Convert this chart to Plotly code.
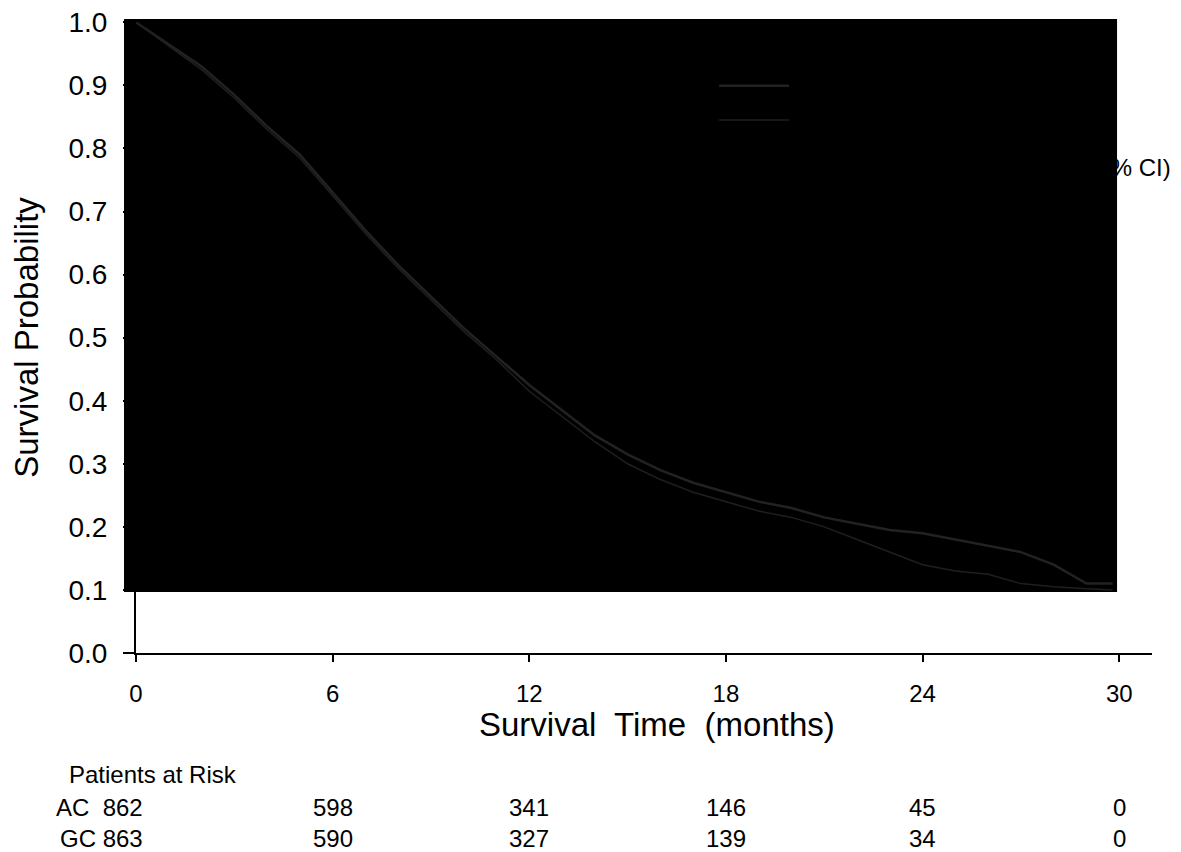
import plotly.graph_objects as go

# Kaplan-Meier estimates (months, survival probability)
months = [0, 1, 2, 3, 4, 5, 6, 7, 8, 9, 10, 11, 12, 13, 14, 15, 16, 17, 18,
          19, 20, 21, 22, 23, 24, 25, 26, 27, 28, 29, 29.8]
surv_ac = [1.0, 0.965, 0.93, 0.885, 0.835, 0.79, 0.73, 0.67, 0.615, 0.565, 0.515,
           0.47, 0.425, 0.385, 0.345, 0.315, 0.29, 0.27, 0.255, 0.24, 0.23, 0.215,
           0.205, 0.195, 0.19, 0.18, 0.17, 0.16, 0.14, 0.11, 0.11]
surv_gc = [1.0, 0.962, 0.925, 0.88, 0.83, 0.785, 0.725, 0.665, 0.61, 0.56, 0.51,
           0.465, 0.415, 0.375, 0.335, 0.3, 0.275, 0.255, 0.24, 0.225, 0.215, 0.2,
           0.18, 0.16, 0.14, 0.13, 0.125, 0.11, 0.105, 0.102, 0.1]

# patients at risk table
risk_times = [0, 6, 12, 18, 24, 30]
risk_ac = [862, 598, 341, 146, 45, 0]
risk_gc = [863, 590, 327, 139, 34, 0]

font_main = "Liberation Sans, Arial, sans-serif"

trace_ac = go.Scatter(x=months, y=surv_ac, mode='lines', name='AC',
                      line=dict(color='#222222', width=2.5))
trace_gc = go.Scatter(x=months, y=surv_gc, mode='lines', name='GC',
                      line=dict(color='#1f1f1f', width=1.5))

annotations = [
    dict(text='Survival&nbsp; Time&nbsp; (months)', x=0.513, y=-0.114,
         xref='paper', yref='paper', xanchor='center', yanchor='middle',
         showarrow=False, font=dict(family=font_main, size=33, color='black')),
    dict(text='Patients at Risk', x=-0.068, y=-0.193, xref='paper', yref='paper',
         xanchor='left', yanchor='middle', showarrow=False,
         font=dict(family=font_main, size=24, color='black')),
    dict(text='(95% CI)', x=1.021, y=0.769, xref='paper', yref='paper',
         xanchor='right', yanchor='middle', showarrow=False,
         font=dict(family=font_main, size=24, color='black')),
]
for row, (label, counts) in enumerate([('AC  ', risk_ac), ('GC ', risk_gc)]):
    ypos = -0.245 - row * 0.049
    for t, n in zip(risk_times, counts):
        if t == 0:
            annotations.append(dict(text=label + str(n), x=0.009, y=ypos, xref='paper',
                                    yref='paper', xanchor='right', yanchor='middle',
                                    showarrow=False,
                                    font=dict(family=font_main, size=24, color='black')))
        else:
            annotations.append(dict(text=str(n), x=t, y=ypos, xref='x', yref='paper',
                                    xanchor='center', yanchor='middle', showarrow=False,
                                    font=dict(family=font_main, size=24, color='black')))

# page body has an 8px margin, so the figure is 16px smaller than the window
layout = go.Layout(
    width=1173, height=844,
    margin=dict(l=128, r=29, t=14, b=199, autoexpand=False),
    paper_bgcolor='white', plot_bgcolor='white',
    font=dict(family=font_main, size=24, color='black'),
    showlegend=True,
    legend=dict(x=0.569, y=0.934, xanchor='left', yanchor='top',
                bgcolor='rgba(0,0,0,0)', itemwidth=70,
                font=dict(family=font_main, size=24, color='black')),
    xaxis=dict(range=[0, 31], tickvals=risk_times, showgrid=False, zeroline=False,
               showline=True, linecolor='black', linewidth=2, automargin=False,
               ticks='outside', ticklen=7, tickwidth=2, tickcolor='black',
               ticklabelstandoff=11,
               tickfont=dict(family=font_main, size=24, color='black')),
    yaxis=dict(range=[0, 1.0005], tickvals=[i / 10 for i in range(11)], tickformat='.1f',
               showgrid=False, zeroline=False, showline=True, linecolor='black',
               linewidth=2, automargin=False, ticks='outside', ticklen=11,
               tickwidth=2, tickcolor='black',
               ticklabelstandoff=10, ticklabeloverflow='allow',
               tickfont=dict(family=font_main, size=28, color='black'),
               title=dict(text='Survival Probability', standoff=25,
                          font=dict(family=font_main, size=33, color='black'))),
    shapes=[dict(type='rect', xref='paper', yref='paper', x0=-0.0118, x1=0.9656,
                 y0=0.0967, y1=1.0048, fillcolor='black', line=dict(width=0),
                 layer='below')],
    annotations=annotations,
)

fig = go.Figure(data=[trace_ac, trace_gc], layout=layout)
fig.write_html("out.html")
